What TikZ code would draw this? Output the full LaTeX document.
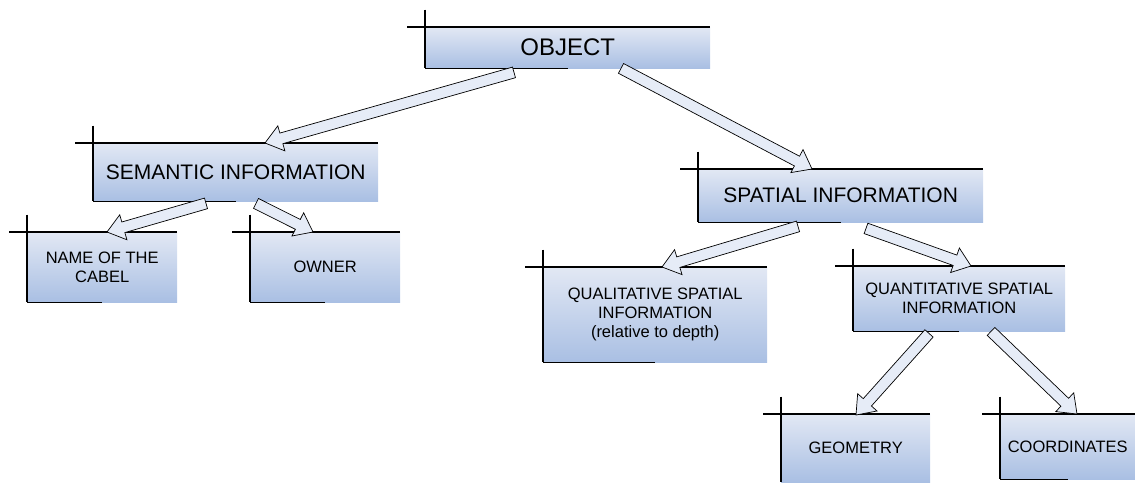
\documentclass[tikz,border=0pt]{standalone}
\usepackage{fontspec}
\setmainfont{Liberation Sans}
\usetikzlibrary{calc}
\definecolor{boxtop}{HTML}{E2E8F4}
\definecolor{boxbot}{HTML}{A9BFE3}
\definecolor{arrowfill}{HTML}{E6ECF7}

\newcommand{\blockarrow}[2]{%
  \coordinate (ha) at ($(#2)!17pt!(#1)$);
  \filldraw[arrowbody] ($(#1)!5.5pt!90:(#2)$) -- ($(ha)!5.5pt!-90:(#1)$) -- ($(ha)!13pt!-90:(#1)$)
    -- (#2) -- ($(ha)!13pt!90:(#1)$) -- ($(ha)!5.5pt!90:(#1)$) -- ($(#1)!5.5pt!-90:(#2)$) -- cycle;
}

\begin{document}
\begin{tikzpicture}[x=1pt, y=-1pt,
  box/.style={top color=boxtop, bottom color=boxbot, anchor=north west, inner sep=0pt, align=center, font=\fontsize{16.5}{19}\selectfont},
  bigbox/.style={box, font=\fontsize{21}{25}\selectfont},
  frame/.style={line width=1.7pt},
  arrowbody/.style={fill=arrowfill, draw=black, line width=0.7pt, line join=miter}]
  \useasboundingbox (0,0) rectangle (1135,482);

  \node[box, minimum width=285pt, minimum height=41pt, font=\fontsize{24}{28}\selectfont] (object) at (425,27) {OBJECT};
  \node[bigbox, minimum width=285pt, minimum height=58pt] (semantic) at (93,143) {SEMANTIC INFORMATION};
  \node[bigbox, minimum width=285pt, minimum height=53pt] (spatial) at (698,169) {SPATIAL INFORMATION};
  \node[box, minimum width=150pt, minimum height=70pt] (name) at (27,232) {NAME OF THE\\CABEL};
  \node[box, minimum width=150pt, minimum height=70pt] (owner) at (250,232) {OWNER};
  \node[box, minimum width=224pt, minimum height=95pt] (qual) at (543,267) {QUALITATIVE SPATIAL\\INFORMATION\\(relative to depth)};
  \node[box, minimum width=212pt, minimum height=65pt] (quant) at (853,266) {QUANTITATIVE SPATIAL\\INFORMATION};
  \node[box, minimum width=149pt, minimum height=68pt] (geom) at (781,414) {GEOMETRY};
  \node[box, minimum width=135pt, minimum height=65pt] (coords) at (1000,414) {COORDINATES};

  \foreach \b in {object,semantic,spatial,name,owner,qual,quant,geom,coords} {
    \draw[frame] ($(\b.north west)+(-18,0)$) -- (\b.north east);
    \draw[frame] ($(\b.north west)+(0,-17.5)$) -- (\b.south west);
  }
  \foreach \b in {object,semantic,spatial,name,owner,qual,quant,coords}
    \draw[frame] (\b.south west) -- ($(\b.south west)!0.5!(\b.south east)$);

  \coordinate (t1) at ($(object.south west)+(89,4)$);
  \coordinate (h1) at ($(semantic.north west)+(172,0)$);
  \coordinate (t2) at ($(object.south west)+(196,0)$);
  \coordinate (h2) at ($(spatial.north west)+(114,0)$);
  \coordinate (t3) at ($(semantic.south west)+(113,2)$);
  \coordinate (h3) at ($(name.north west)+(80,0)$);
  \coordinate (t4) at ($(semantic.south west)+(163,2)$);
  \coordinate (h4) at ($(owner.north west)+(63,0)$);
  \coordinate (t5) at ($(spatial.south west)+(100,4)$);
  \coordinate (h5) at ($(qual.north west)+(119,0)$);
  \coordinate (t6) at ($(spatial.south west)+(168,6)$);
  \coordinate (h6) at ($(quant.north west)+(118,0)$);
  \coordinate (t7) at ($(quant.south west)+(76,2)$);
  \coordinate (h7) at ($(geom.north west)+(75,1)$);
  \coordinate (t8) at ($(quant.south west)+(138,0)$);
  \coordinate (h8) at ($(coords.north west)+(77,0)$);

  \foreach \a/\b in {t1/h1, t2/h2, t3/h3, t4/h4, t5/h5, t6/h6, t7/h7, t8/h8}
    \blockarrow{\a}{\b};
\end{tikzpicture}
\end{document}
